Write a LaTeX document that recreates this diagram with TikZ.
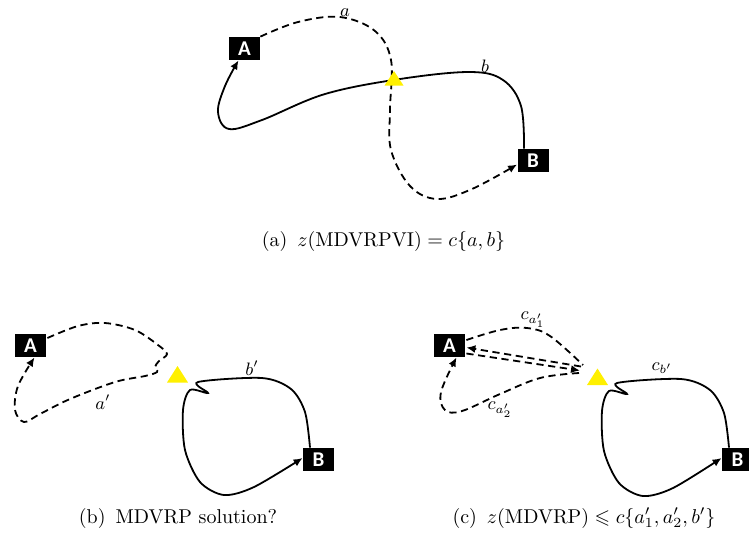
\documentclass[tikz,border=0pt]{standalone}
\usepackage{amsmath,amssymb}
\usepackage{fontspec}
\newfontfamily\boxfont{Carlito}
\usetikzlibrary{arrows.meta,calc}

\tikzset{
  depotbox/.style={fill=black, text=white, font=\boxfont\bfseries\fontsize{10.5}{10.5}\selectfont,
    minimum width=15.5pt, minimum height=11.5pt, inner sep=0pt},
  route/.style={line width=0.9pt, black},
  dashroute/.style={route, dash pattern=on 3.6pt off 2.3pt},
  tipend/.style={-{Latex[length=4.5pt,width=4pt]}},
  lbl/.style={font=\fontsize{9}{10}\selectfont, inner sep=0pt},
  subcaption/.style={font=\fontsize{10}{12}\selectfont, inner sep=0pt},
  depotfill/.style={fill={rgb,255:red,255;green,240;blue,0}}
}

\begin{document}
\begin{tikzpicture}[x=0.5pt, y=-0.5pt]
\useasboundingbox (0,0) rectangle (749,554);

% ---------------- (a) ----------------
\node[depotbox] (A1) at (244.5,48.5) {A};
\node[depotbox] (B1) at (533,160.5) {B};
\coordinate (d1) at (394,78.5);
\coordinate (b1s) at ($(B1.north)+(-9,0)$);
\coordinate (b1e) at ($(A1.south)+(-6,0)$);
\coordinate (a1e) at ($(B1.west)+(0,4)$);

\draw[route,tipend] plot[smooth,tension=0.6] coordinates {
  (b1s) (521,106) (503,80) (470,72) (400,79) (325,94) (262,120) (229,129)
  (218,112) (225,86) (b1e)};
\draw[dashroute,tipend] plot[smooth,tension=0.6] coordinates {
  (A1.north east) (298,22) (340,17) (375,31) (391,60) (390,110) (391,150)
  (410,186) (437,199) (472,189) (a1e)};
\node[lbl] (la) at (345,13) {$a$};
\node[lbl] (lb) at (485,66) {$b$};
\fill[depotfill] ($(d1)+(-9.5,7)$) -- ($(d1)+(9.5,7)$) -- ($(d1)+(0,-7.5)$) -- cycle;

\node[subcaption] (capa) at (383.5,241) {(a)\enspace $z(\text{MDVRPVI}) = c\{a,b\}$};

% ---------------- (b) ----------------
\node[depotbox] (A2) at (30.5,345.5) {A};
\node[depotbox] (B2) at (318.5,459.5) {B};
\coordinate (d2) at (177.5,374.5);
\coordinate (a2s) at ($(A2.east)+(1,-7.5)$);
\coordinate (a2e) at ($(A2.south)+(4,0)$);
\coordinate (b2s) at ($(B2.north)+(-8.5,0)$);
\coordinate (b2e) at ($(B2.west)+(0,-1.5)$);

\draw[dashroute,tipend] plot[smooth,tension=0.55] coordinates {
  (a2s) (78,326) (105,323) (135,330) (158,345) (167,354) (159,361)
  (155,367) (157,372) (145,376) (115,382) (70,399) (40,414) (24,422)
  (15,410) (18,386) (a2e)};
\draw[route,tipend] plot[smooth,tension=0.5] coordinates {
  (b2s) (305,412) (291,389) (262,378) (198,382)
  (208,393) (190,390) (183,410) (185,450) (200,482) (224,495) (254,487) (b2e)};
\node[lbl] (lbp) at (252,368) {$b'$};
\node[lbl] (lap) at (103,402) {$a'$};
\fill[depotfill] ($(d2)+(-10.5,8)$) -- ($(d2)+(10.5,8)$) -- ($(d2)+(0,-8.5)$) -- cycle;

\node[subcaption] (capb) at (178,518) {(b)\enspace MDVRP solution?};

% ---------------- (c) ----------------
\node[depotbox] (A3) at (449.5,345.5) {A};
\node[depotbox] (B3) at (737.5,459.5) {B};
\coordinate (d3) at (597.5,377);
\coordinate (c1s) at ($(A3.east)+(1,-5.5)$);
\coordinate (c1e) at (583,365);
\coordinate (c2s) at (581,366.5);
\coordinate (c2e) at ($(A3.east)+(1,2)$);
\coordinate (c3s) at ($(A3.east)+(1,8)$);
\coordinate (c3e) at (580,370.5);
\coordinate (c4s) at (579,373);
\coordinate (c4e) at ($(A3.south)+(7,0)$);
\coordinate (b3s) at ($(B3.north)+(-8.5,0)$);
\coordinate (b3e) at ($(B3.west)+(0,-1.5)$);

% first trip: out along the upper arc, back along the straight line
\draw[dashroute] plot[smooth,tension=0.6] coordinates {
  (c1s) (500,330) (527,328) (550,336) (c1e)};
\draw[dashroute,tipend] (c2s) -- (c2e);
% second trip: out along the straight line, back along the lower arc
\draw[dashroute,tipend] (c3s) -- (c3e);
\draw[dashroute,tipend] plot[smooth,tension=0.6] coordinates {
  (c4s) (540,378) (500,394) (462,411) (445,410) (441,392) (c4e)};

\begin{scope}[shift={(419,1)}]
\draw[route,tipend] plot[smooth,tension=0.5] coordinates {
  (b3s) (305,412) (291,389) (262,378) (198,382)
  (208,393) (190,390) (183,410) (185,450) (200,482) (224,495) (254,487) (b3e)};
\end{scope}
\node[lbl] (lca1) at (533,320) {$c_{a'_1}$};
\node[lbl] (lca2) at (500,410) {$c_{a'_2}$};
\node[lbl] (lcb) at (662,368) {$c_{b'}$};
\fill[depotfill] ($(d3)+(-10.5,8)$) -- ($(d3)+(10.5,8)$) -- ($(d3)+(0,-8.5)$) -- cycle;

\node[subcaption] (capc) at (584,518) {(c)\enspace $z(\text{MDVRP}) \leqslant c\{a'_1, a'_2, b'\}$};
\end{tikzpicture}
\end{document}
